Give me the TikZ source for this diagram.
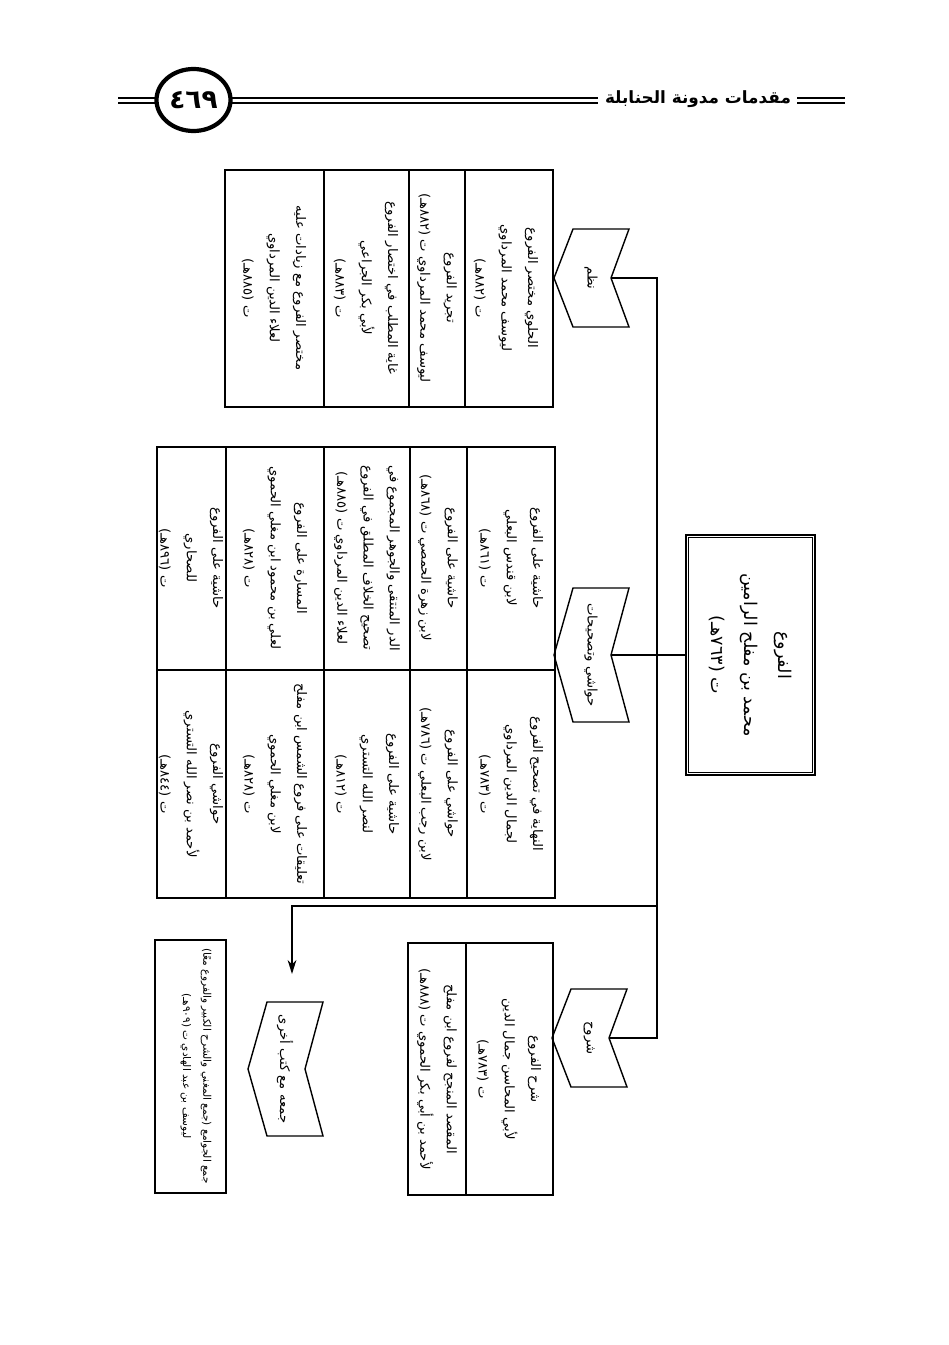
\documentclass[tikz,border=0pt]{standalone}
\usepackage{fontspec}
\newfontfamily\arabicfont[Script=Arabic]{DejaVu Sans}
\TeXXeTstate=1
\usetikzlibrary{arrows.meta}
\newcommand{\artext}[1]{\beginR#1\endR}

\begin{document}
\begin{tikzpicture}[x=0.02cm,y=-0.02cm,
  txt/.style={rotate=-90,align=center,inner sep=1pt,font=\arabicfont\fontsize{7.5}{15}\selectfont},
  frame/.style={line width=1.5pt},
  rule/.style={line width=0.6pt},
  link/.style={line width=0.8pt}]
\useasboundingbox (0,0) rectangle (948,1345);
% header
\draw[line width=1.7pt](118,98)--(155,98) (232,98)--(598,98) (797,98)--(845,98);
\draw[line width=0.6pt](118,103)--(155,103) (232,103)--(598,103) (797,103)--(845,103);
\draw[line width=2.4pt](193.5,100) ellipse [x radius=37, y radius=31];
\node[font=\arabicfont\bfseries\fontsize{15}{17}\selectfont](page) at (193.5,100){٤٦٩};
\node[font=\arabicfont\bfseries\fontsize{9.6}{12}\selectfont](title) at (698,99){\artext{مقدمات مدونة الحنابلة}};
% root
\node[draw,frame,minimum width=2.58cm,minimum height=4.8cm,inner sep=0](root) at (750.5,655){};
\draw[rule]([shift={(4,4)}]root.north west) rectangle ([shift={(-4,-4)}]root.south east);
\node[txt,font=\arabicfont\fontsize{10}{19}\selectfont](roottxt) at (root){\artext{الفروع}\\\artext{محمد بن مفلح الرامين}\\\artext{ت (٧٦٣هـ)}};
% chevrons
\foreach \tx/\cy/\h/\nm/\lab in {554/278/49/nazm/نظم, 554/655/67/hawashi/حواشي وتصحيحات,
  552/1038/49/shuruh/شروح, 248/1069/67/jam/جمعه مع كتب أخرى}{
  \draw[link](\tx,\cy)--++(19,-\h)--++(56,0)--++(-18,\h)--++(18,\h)--++(-56,0)--cycle;
  \coordinate(\nm-n) at (\tx+57,\cy);
  \node[txt](\nm) at (\tx+37,\cy){\artext{\lab}};
}
% connectors
\coordinate(spine) at (657,0);
\coordinate(brS) at (657,906);
\coordinate(arr) at (292,974);
\draw[link](nazm-n)--(nazm-n -| spine)--(shuruh-n -| spine)--(shuruh-n);
\draw[link](root.west)--(hawashi-n);
\draw[link,-{Stealth[length=8pt,width=5pt]}](brS) -| (arr);
% nazm table
\draw[frame](225,170) rectangle (553,407);
\draw[rule](324,170)--(324,407) (409,170)--(409,407) (465,170)--(465,407);
\node[txt](nazm1) at (506,288){\artext{الحلوي مختصر الفروع}\\\artext{ليوسف محمد المرداوي}\\\artext{ت (٨٨٢هـ)}};
\node[txt](nazm2) at (437,288){\artext{تجريد الفروع}\\\artext{ليوسف محمد المرداوي ت (٨٨٢هـ)}};
\node[txt](nazm3) at (366,288){\artext{غاية المطلب في اختصار الفروع}\\\artext{لأبي بكر الجراعي}\\\artext{ت (٨٨٣هـ)}};
\node[txt](nazm4) at (274,288){\artext{مختصر الفروع مع زيادات عليه}\\\artext{لعلاء الدين المرداوي}\\\artext{ت (٨٨٥هـ)}};
% hawashi table
\draw[frame](157,447) rectangle (555,898);
\draw[rule](157,670)--(555,670);
\draw[rule](226,447)--(226,898) (324,447)--(324,898) (410,447)--(410,898) (467,447)--(467,898);
\node[txt](haw1) at (511,558){\artext{حاشية على الفروع}\\\artext{لابن قندس البعلي}\\\artext{ت (٨٦١هـ)}};
\node[txt](haw2) at (438,558){\artext{حاشية على الفروع}\\\artext{لابن زهرة الحمصي ت (٨٦٨هـ)}};
\node[txt](haw3) at (367,558){\artext{الدر المنتقى والجوهر المجموع في}\\\artext{تصحيح الخلاف المطلق في الفروع}\\\artext{لعلاء الدين المرداوي ت (٨٨٥هـ)}};
\node[txt](haw4) at (275,558){\artext{المسارة على الفروع}\\\artext{لعلي بن محمود ابن مغلي الحموي}\\\artext{ت (٨٢٨هـ)}};
\node[txt](haw5) at (191,558){\artext{حاشية على الفروع}\\\artext{للصحاري}\\\artext{ت (٨٩٦هـ)}};
\node[txt](haw6) at (511,784){\artext{النهاية في تصحيح الفروع}\\\artext{لجمال الدين المرداوي}\\\artext{ت (٧٨٣هـ)}};
\node[txt](haw7) at (438,784){\artext{حواشي على الفروع}\\\artext{لابن رجب البعلي ت (٧٨٦هـ)}};
\node[txt](haw8) at (367,784){\artext{حاشية على الفروع}\\\artext{لنصر الله التستري}\\\artext{ت (٨١٢هـ)}};
\node[txt](haw9) at (275,784){\artext{تعليقات على فروع الشمس ابن مفلح}\\\artext{لابن مغلي الحموي}\\\artext{ت (٨٢٨هـ)}};
\node[txt](haw10) at (191,784){\artext{حواشي الفروع}\\\artext{لأحمد بن نصر الله التستري}\\\artext{ت (٨٤٤هـ)}};
% shuruh table
\draw[frame](408,943) rectangle (553,1195);
\draw[rule](466,943)--(466,1195);
\node[txt](sharh1) at (509,1069){\artext{شرح الفروع}\\\artext{لأبي المحاسن جمال الدين}\\\artext{ت (٧٨٣هـ)}};
\node[txt](sharh2) at (437,1069){\artext{المقصد المنجح لفروع ابن مفلح}\\\artext{لأحمد بن أبي بكر الحموي ت (٨٨٨هـ)}};
% jam box
\draw[frame](155,940) rectangle (226,1193);
\node[txt,font=\arabicfont\fontsize{6}{11.5}\selectfont](jam1) at (196,1066){\artext{جمع الجوامع (جمع المغني والشرح الكبير والفروع معًا)}\\\artext{ليوسف بن عبد الهادي ت (٩٠٩هـ)}};
\end{tikzpicture}
\end{document}
